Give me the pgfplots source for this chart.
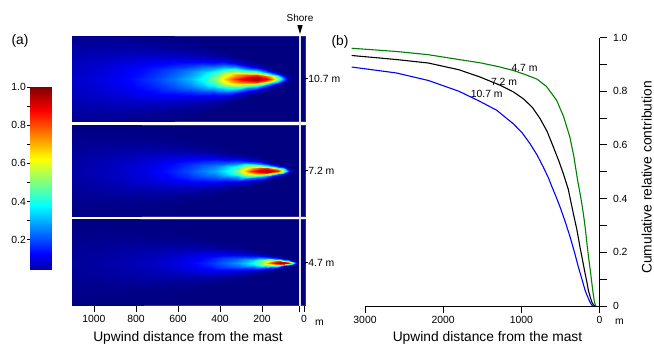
\documentclass[border=0pt]{standalone}
\usepackage{pgfplots}
\pgfplotsset{compat=1.18}
\usepackage{fontspec}
\setmainfont{Liberation Sans}
\definecolor{hmblue}{RGB}{0,0,128}
\definecolor{hmborder}{RGB}{40,40,165}
\definecolor{shore}{RGB}{228,228,238}
\definecolor{cgreen}{RGB}{0,128,0}
\definecolor{cblue}{RGB}{0,0,255}
\newcommand{\fsz}[1]{\fontsize{#1bp}{#1bp}\selectfont}
\pgfplotsset{
  every axis/.append style={scale only axis,
    /pgf/number format/assume math mode=true,
    /pgf/number format/1000 sep={},
    tick label style={font=\fsz{10.4}}},
  hm/.style={anchor=north west, width=232.5bp,
    xmin=-5, xmax=1102, x dir=reverse,
    axis background/.style={fill=hmblue},
    axis line style={draw=hmborder, line width=0.7bp},
    colormap/jet, point meta min=0, point meta max=1,
    xtick=\empty, ytick=\empty},
  hmplot/.style={surf, shader=interp, point meta=explicit, mesh/rows=11, mesh/ordering=y varies},
}
\begin{document}
\begin{tikzpicture}[x=1bp,y=1bp]
\useasboundingbox (0,0) rectangle (654,-345);

% ---------- colorbar ----------
\begin{axis}[at={(29.5bp,-87.3bp)}, anchor=north west, width=21.5bp, height=181.7bp,
  xmin=0, xmax=1, ymin=0.045, ymax=1, xtick=\empty,
  ytick={0.2,0.4,0.6,0.8,1}, yticklabels={0.2,0.4,0.6,0.8,1.0},
  minor y tick num=1, ytick pos=left, tick align=outside,
  major tick length=2.5bp, minor tick length=2.5bp,
  axis line style={draw=none}, tick style={black, line width=0.8bp},
  colormap/jet, point meta min=0, point meta max=1,
  yticklabel style={inner sep=1bp}]
\addplot[surf, shader=interp, point meta=explicit, mesh/cols=2] coordinates {
(0,0.045)[0.045] (1,0.045)[0.045]
(0,0.125)[0.125] (1,0.125)[0.125]
(0,0.375)[0.375] (1,0.375)[0.375]
(0,0.625)[0.625] (1,0.625)[0.625]
(0,0.875)[0.875] (1,0.875)[0.875]
(0,1)[1] (1,1)[1]
};
\end{axis}

% ---------- panel 10.7 m ----------
\begin{axis}[hm, at={(72.5bp,-36bp)}, height=85bp, ymin=-42.5, ymax=42.5]
\addplot[hmplot] coordinates {
(-5,-0.9)[0] (-5,-0.66)[0] (-5,-0.48)[0] (-5,-0.33)[0] (-5,-0.18)[0] (-5,0)[0] (-5,0.18)[0] (-5,0.33)[0] (-5,0.48)[0] (-5,0.66)[0] (-5,0.9)[0]
(40,-2.76)[0] (40,-2.02)[0] (40,-1.47)[0] (40,-1.01)[0] (40,-0.55)[0] (40,0)[0] (40,0.55)[0] (40,1.01)[0] (40,1.47)[0] (40,2.02)[0] (40,2.76)[0]
(60,-4.17)[0] (60,-3.06)[0.001] (60,-2.22)[0.003] (60,-1.53)[0.005] (60,-0.83)[0.008] (60,0)[0.01] (60,0.83)[0.008] (60,1.53)[0.005] (60,2.22)[0.003] (60,3.06)[0.001] (60,4.17)[0]
(80,-5.55)[0.001] (80,-4.07)[0.008] (80,-2.96)[0.025] (80,-2.04)[0.049] (80,-1.11)[0.075] (80,0)[0.09] (80,1.11)[0.075] (80,2.04)[0.049] (80,2.96)[0.025] (80,4.07)[0.008] (80,5.55)[0.001]
(100,-6.93)[0.003] (100,-5.08)[0.024] (100,-3.70)[0.075] (100,-2.54)[0.147] (100,-1.39)[0.225] (100,0)[0.27] (100,1.39)[0.225] (100,2.54)[0.147] (100,3.70)[0.075] (100,5.08)[0.024] (100,6.93)[0.003]
(125,-8.67)[0.006] (125,-6.36)[0.047] (125,-4.62)[0.147] (125,-3.18)[0.289] (125,-1.73)[0.443] (125,0)[0.53] (125,1.73)[0.443] (125,3.18)[0.289] (125,4.62)[0.147] (125,6.36)[0.047] (125,8.67)[0.006]
(150,-10.41)[0.008] (150,-7.63)[0.068] (150,-5.55)[0.211] (150,-3.82)[0.415] (150,-2.08)[0.635] (150,0)[0.76] (150,2.08)[0.635] (150,3.82)[0.415] (150,5.55)[0.211] (150,7.63)[0.068] (150,10.41)[0.008]
(180,-12.48)[0.010] (180,-9.15)[0.082] (180,-6.66)[0.256] (180,-4.58)[0.502] (180,-2.50)[0.768] (180,0)[0.92] (180,2.50)[0.768] (180,4.58)[0.502] (180,6.66)[0.256] (180,9.15)[0.082] (180,12.48)[0.010]
(225,-15.6)[0.011] (225,-11.44)[0.089] (225,-8.32)[0.278] (225,-5.72)[0.546] (225,-3.12)[0.835] (225,0)[1] (225,3.12)[0.835] (225,5.72)[0.546] (225,8.32)[0.278] (225,11.44)[0.089] (225,15.6)[0.011]
(270,-18.72)[0.010] (270,-13.73)[0.085] (270,-9.98)[0.264] (270,-6.86)[0.519] (270,-3.74)[0.793] (270,0)[0.95] (270,3.74)[0.793] (270,6.86)[0.519] (270,9.98)[0.264] (270,13.73)[0.085] (270,18.72)[0.010]
(330,-22.86)[0.009] (330,-16.76)[0.073] (330,-12.19)[0.228] (330,-8.38)[0.448] (330,-4.57)[0.685] (330,0)[0.82] (330,4.57)[0.685] (330,8.38)[0.448] (330,12.19)[0.228] (330,16.76)[0.073] (330,22.86)[0.009]
(380,-26.34)[0.007] (380,-19.32)[0.059] (380,-14.05)[0.183] (380,-9.66)[0.360] (380,-5.27)[0.551] (380,0)[0.66] (380,5.27)[0.551] (380,9.66)[0.360] (380,14.05)[0.183] (380,19.32)[0.059] (380,26.34)[0.007]
(430,-29.79)[0.006] (430,-21.85)[0.045] (430,-15.89)[0.139] (430,-10.92)[0.273] (430,-5.96)[0.418] (430,0)[0.50] (430,5.96)[0.418] (430,10.92)[0.273] (430,15.89)[0.139] (430,21.85)[0.045] (430,29.79)[0.006]
(480,-33.27)[0.004] (480,-24.40)[0.035] (480,-17.74)[0.108] (480,-12.20)[0.213] (480,-6.65)[0.326] (480,0)[0.39] (480,6.65)[0.326] (480,12.20)[0.213] (480,17.74)[0.108] (480,24.40)[0.035] (480,33.27)[0.004]
(540,-37.41)[0.003] (540,-27.43)[0.028] (540,-19.95)[0.086] (540,-13.72)[0.169] (540,-7.48)[0.259] (540,0)[0.31] (540,7.48)[0.259] (540,13.72)[0.169] (540,19.95)[0.086] (540,27.43)[0.028] (540,37.41)[0.003]
(620,-42.96)[0.003] (620,-31.50)[0.021] (620,-22.91)[0.067] (620,-15.75)[0.131] (620,-8.59)[0.200] (620,0)[0.24] (620,8.59)[0.200] (620,15.75)[0.131] (620,22.91)[0.067] (620,31.50)[0.021] (620,42.96)[0.003]
(720,-49.89)[0.002] (720,-36.59)[0.016] (720,-26.61)[0.050] (720,-18.29)[0.098] (720,-9.98)[0.150] (720,0)[0.18] (720,9.98)[0.150] (720,18.29)[0.098] (720,26.61)[0.050] (720,36.59)[0.016] (720,49.89)[0.002]
(840,-58.2)[0.001] (840,-42.68)[0.012] (840,-31.04)[0.036] (840,-21.34)[0.071] (840,-11.64)[0.109] (840,0)[0.13] (840,11.64)[0.109] (840,21.34)[0.071] (840,31.04)[0.036] (840,42.68)[0.012] (840,58.2)[0.001]
(970,-67.23)[0.001] (970,-49.30)[0.008] (970,-35.86)[0.026] (970,-24.65)[0.052] (970,-13.45)[0.079] (970,0)[0.095] (970,13.45)[0.079] (970,24.65)[0.052] (970,35.86)[0.026] (970,49.30)[0.008] (970,67.23)[0.001]
(1102,-76.38)[0.001] (1102,-56.01)[0.006] (1102,-40.74)[0.019] (1102,-28.01)[0.038] (1102,-15.28)[0.058] (1102,0)[0.07] (1102,15.28)[0.058] (1102,28.01)[0.038] (1102,40.74)[0.019] (1102,56.01)[0.006] (1102,76.38)[0.001]
};
\end{axis}

% ---------- panel 7.2 m ----------
\begin{axis}[hm, at={(72.5bp,-125bp)}, height=91bp, ymin=-45.5, ymax=45.5]
\addplot[hmplot] coordinates {
(-5,-0.9)[0] (-5,-0.66)[0] (-5,-0.48)[0] (-5,-0.33)[0] (-5,-0.18)[0] (-5,0)[0] (-5,0.18)[0] (-5,0.33)[0] (-5,0.48)[0] (-5,0.66)[0] (-5,0.9)[0]
(30,-1.77)[0] (30,-1.30)[0] (30,-0.94)[0] (30,-0.65)[0] (30,-0.35)[0] (30,0)[0] (30,0.35)[0] (30,0.65)[0] (30,0.94)[0] (30,1.30)[0] (30,1.77)[0]
(50,-2.97)[0] (50,-2.18)[0.001] (50,-1.58)[0.003] (50,-1.09)[0.005] (50,-0.59)[0.008] (50,0)[0.01] (50,0.59)[0.008] (50,1.09)[0.005] (50,1.58)[0.003] (50,2.18)[0.001] (50,2.97)[0]
(67,-3.96)[0.001] (67,-2.90)[0.007] (67,-2.11)[0.022] (67,-1.45)[0.044] (67,-0.79)[0.067] (67,0)[0.08] (67,0.79)[0.067] (67,1.45)[0.044] (67,2.11)[0.022] (67,2.90)[0.007] (67,3.96)[0.001]
(83,-4.92)[0.003] (83,-3.61)[0.027] (83,-2.62)[0.083] (83,-1.80)[0.164] (83,-0.98)[0.251] (83,0)[0.30] (83,0.98)[0.251] (83,1.80)[0.164] (83,2.62)[0.083] (83,3.61)[0.027] (83,4.92)[0.003]
(98,-5.79)[0.006] (98,-4.25)[0.052] (98,-3.09)[0.161] (98,-2.12)[0.317] (98,-1.16)[0.484] (98,0)[0.58] (98,1.16)[0.484] (98,2.12)[0.317] (98,3.09)[0.161] (98,4.25)[0.052] (98,5.79)[0.006]
(122,-7.20)[0.009] (122,-5.28)[0.076] (122,-3.84)[0.236] (122,-2.64)[0.464] (122,-1.44)[0.710] (122,0)[0.85] (122,1.44)[0.710] (122,2.64)[0.464] (122,3.84)[0.236] (122,5.28)[0.076] (122,7.20)[0.009]
(150,-8.88)[0.011] (150,-6.51)[0.086] (150,-4.74)[0.270] (150,-3.26)[0.530] (150,-1.78)[0.810] (150,0)[0.97] (150,1.78)[0.810] (150,3.26)[0.530] (150,4.74)[0.270] (150,6.51)[0.086] (150,8.88)[0.011]
(178,-10.53)[0.011] (178,-7.72)[0.089] (178,-5.62)[0.278] (178,-3.86)[0.546] (178,-2.11)[0.835] (178,0)[1] (178,2.11)[0.835] (178,3.86)[0.546] (178,5.62)[0.278] (178,7.72)[0.089] (178,10.53)[0.011]
(210,-12.42)[0.011] (210,-9.11)[0.085] (210,-6.62)[0.267] (210,-4.55)[0.524] (210,-2.48)[0.802] (210,0)[0.96] (210,2.48)[0.802] (210,4.55)[0.524] (210,6.62)[0.267] (210,9.11)[0.085] (210,12.42)[0.011]
(249,-14.73)[0.009] (249,-10.80)[0.075] (249,-7.86)[0.234] (249,-5.40)[0.459] (249,-2.95)[0.701] (249,0)[0.84] (249,2.95)[0.701] (249,5.40)[0.459] (249,7.86)[0.234] (249,10.80)[0.075] (249,14.73)[0.009]
(281,-16.62)[0.007] (281,-12.19)[0.061] (281,-8.86)[0.189] (281,-6.09)[0.371] (281,-3.32)[0.568] (281,0)[0.68] (281,3.32)[0.568] (281,6.09)[0.371] (281,8.86)[0.189] (281,12.19)[0.061] (281,16.62)[0.007]
(321,-18.96)[0.006] (321,-13.90)[0.045] (321,-10.11)[0.139] (321,-6.95)[0.273] (321,-3.79)[0.418] (321,0)[0.50] (321,3.79)[0.418] (321,6.95)[0.273] (321,10.11)[0.139] (321,13.90)[0.045] (321,18.96)[0.006]
(368,-21.75)[0.004] (368,-15.95)[0.034] (368,-11.60)[0.106] (368,-7.98)[0.207] (368,-4.35)[0.317] (368,0)[0.38] (368,4.35)[0.317] (368,7.98)[0.207] (368,11.60)[0.106] (368,15.95)[0.034] (368,21.75)[0.004]
(420,-24.81)[0.003] (420,-18.19)[0.027] (420,-13.23)[0.083] (420,-9.10)[0.164] (420,-4.96)[0.251] (420,0)[0.30] (420,4.96)[0.251] (420,9.10)[0.164] (420,13.23)[0.083] (420,18.19)[0.027] (420,24.81)[0.003]
(480,-28.38)[0.003] (480,-20.81)[0.022] (480,-15.14)[0.070] (480,-10.41)[0.137] (480,-5.68)[0.209] (480,0)[0.25] (480,5.68)[0.209] (480,10.41)[0.137] (480,15.14)[0.070] (480,20.81)[0.022] (480,28.38)[0.003]
(560,-33.09)[0.002] (560,-24.27)[0.017] (560,-17.65)[0.053] (560,-12.13)[0.104] (560,-6.62)[0.159] (560,0)[0.19] (560,6.62)[0.159] (560,12.13)[0.104] (560,17.65)[0.053] (560,24.27)[0.017] (560,33.09)[0.002]
(650,-38.43)[0.002] (650,-28.18)[0.012] (650,-20.50)[0.039] (650,-14.09)[0.076] (650,-7.69)[0.117] (650,0)[0.14] (650,7.69)[0.117] (650,14.09)[0.076] (650,20.50)[0.039] (650,28.18)[0.012] (650,38.43)[0.002]
(760,-44.91)[0.001] (760,-32.93)[0.009] (760,-23.95)[0.028] (760,-16.47)[0.055] (760,-8.98)[0.084] (760,0)[0.10] (760,8.98)[0.084] (760,16.47)[0.055] (760,23.95)[0.028] (760,32.93)[0.009] (760,44.91)[0.001]
(880,-52.02)[0.001] (880,-38.15)[0.006] (880,-27.74)[0.019] (880,-19.07)[0.038] (880,-10.40)[0.058] (880,0)[0.07] (880,10.40)[0.058] (880,19.07)[0.038] (880,27.74)[0.019] (880,38.15)[0.006] (880,52.02)[0.001]
(1000,-59.1)[0.001] (1000,-43.34)[0.004] (1000,-31.52)[0.014] (1000,-21.67)[0.027] (1000,-11.82)[0.042] (1000,0)[0.05] (1000,11.82)[0.042] (1000,21.67)[0.027] (1000,31.52)[0.014] (1000,43.34)[0.004] (1000,59.1)[0.001]
(1102,-65.13)[0] (1102,-47.76)[0.003] (1102,-34.74)[0.010] (1102,-23.88)[0.019] (1102,-13.03)[0.029] (1102,0)[0.035] (1102,13.03)[0.029] (1102,23.88)[0.019] (1102,34.74)[0.010] (1102,47.76)[0.003] (1102,65.13)[0]
};
\end{axis}

% ---------- panel 4.7 m ----------
\begin{axis}[hm, at={(72.5bp,-219.5bp)}, height=86bp, ymin=-43, ymax=43,
  xtick={0,200,400,600,800,1000}, extra x ticks={20}, extra x tick labels={},
  xtick pos=bottom, tick align=outside, major tick length=6.5bp,
  tick style={black, line width=0.8bp}]
\addplot[hmplot] coordinates {
(-5,-0.9)[0] (-5,-0.66)[0] (-5,-0.48)[0] (-5,-0.33)[0] (-5,-0.18)[0] (-5,0)[0] (-5,0.18)[0] (-5,0.33)[0] (-5,0.48)[0] (-5,0.66)[0] (-5,0.9)[0]
(20,-1.11)[0] (20,-0.81)[0] (20,-0.59)[0] (20,-0.41)[0] (20,-0.22)[0] (20,0)[0] (20,0.22)[0] (20,0.41)[0] (20,0.59)[0] (20,0.81)[0] (20,1.11)[0]
(30,-1.68)[0] (30,-1.23)[0.002] (30,-0.90)[0.006] (30,-0.62)[0.011] (30,-0.34)[0.017] (30,0)[0.02] (30,0.34)[0.017] (30,0.62)[0.011] (30,0.90)[0.006] (30,1.23)[0.002] (30,1.68)[0]
(40,-2.22)[0.002] (40,-1.63)[0.013] (40,-1.18)[0.042] (40,-0.81)[0.082] (40,-0.44)[0.125] (40,0)[0.15] (40,0.44)[0.125] (40,0.81)[0.082] (40,1.18)[0.042] (40,1.63)[0.013] (40,2.22)[0.002]
(51,-2.82)[0.004] (51,-2.07)[0.036] (51,-1.50)[0.111] (51,-1.03)[0.218] (51,-0.56)[0.334] (51,0)[0.40] (51,0.56)[0.334] (51,1.03)[0.218] (51,1.50)[0.111] (51,2.07)[0.036] (51,2.82)[0.004]
(62,-3.45)[0.008] (62,-2.53)[0.062] (62,-1.84)[0.195] (62,-1.27)[0.382] (62,-0.69)[0.585] (62,0)[0.70] (62,0.69)[0.585] (62,1.27)[0.382] (62,1.84)[0.195] (62,2.53)[0.062] (62,3.45)[0.008]
(75,-4.17)[0.010] (75,-3.06)[0.080] (75,-2.22)[0.250] (75,-1.53)[0.491] (75,-0.83)[0.752] (75,0)[0.90] (75,0.83)[0.752] (75,1.53)[0.491] (75,2.22)[0.250] (75,3.06)[0.080] (75,4.17)[0.010]
(95,-5.28)[0.011] (95,-3.87)[0.088] (95,-2.82)[0.275] (95,-1.94)[0.541] (95,-1.06)[0.827] (95,0)[0.99] (95,1.06)[0.827] (95,1.94)[0.541] (95,2.82)[0.275] (95,3.87)[0.088] (95,5.28)[0.011]
(112,-6.21)[0.011] (112,-4.55)[0.089] (112,-3.31)[0.278] (112,-2.28)[0.546] (112,-1.24)[0.835] (112,0)[1] (112,1.24)[0.835] (112,2.28)[0.546] (112,3.31)[0.278] (112,4.55)[0.089] (112,6.21)[0.011]
(135,-7.50)[0.010] (135,-5.50)[0.083] (135,-4.00)[0.259] (135,-2.75)[0.508] (135,-1.50)[0.777] (135,0)[0.93] (135,1.50)[0.777] (135,2.75)[0.508] (135,4.00)[0.259] (135,5.50)[0.083] (135,7.50)[0.010]
(160,-8.88)[0.009] (160,-6.51)[0.069] (160,-4.74)[0.217] (160,-3.26)[0.426] (160,-1.78)[0.651] (160,0)[0.78] (160,1.78)[0.651] (160,3.26)[0.426] (160,4.74)[0.217] (160,6.51)[0.069] (160,8.88)[0.009]
(186,-10.32)[0.007] (186,-7.57)[0.055] (186,-5.50)[0.172] (186,-3.78)[0.339] (186,-2.06)[0.518] (186,0)[0.62] (186,2.06)[0.518] (186,3.78)[0.339] (186,5.50)[0.172] (186,7.57)[0.055] (186,10.32)[0.007]
(212,-11.76)[0.005] (212,-8.62)[0.044] (212,-6.27)[0.136] (212,-4.31)[0.268] (212,-2.35)[0.409] (212,0)[0.49] (212,2.35)[0.409] (212,4.31)[0.268] (212,6.27)[0.136] (212,8.62)[0.044] (212,11.76)[0.005]
(241,-13.38)[0.004] (241,-9.81)[0.035] (241,-7.14)[0.108] (241,-4.91)[0.213] (241,-2.68)[0.326] (241,0)[0.39] (241,2.68)[0.326] (241,4.91)[0.213] (241,7.14)[0.108] (241,9.81)[0.035] (241,13.38)[0.004]
(280,-15.54)[0.004] (280,-11.40)[0.028] (280,-8.29)[0.089] (280,-5.70)[0.175] (280,-3.11)[0.267] (280,0)[0.32] (280,3.11)[0.267] (280,5.70)[0.175] (280,8.29)[0.089] (280,11.40)[0.028] (280,15.54)[0.004]
(321,-17.82)[0.003] (321,-13.07)[0.024] (321,-9.50)[0.075] (321,-6.53)[0.147] (321,-3.56)[0.225] (321,0)[0.27] (321,3.56)[0.225] (321,6.53)[0.147] (321,9.50)[0.075] (321,13.07)[0.024] (321,17.82)[0.003]
(380,-21.09)[0.002] (380,-15.47)[0.020] (380,-11.25)[0.061] (380,-7.73)[0.120] (380,-4.22)[0.184] (380,0)[0.22] (380,4.22)[0.184] (380,7.73)[0.120] (380,11.25)[0.061] (380,15.47)[0.020] (380,21.09)[0.002]
(448,-24.87)[0.002] (448,-18.24)[0.015] (448,-13.26)[0.047] (448,-9.12)[0.093] (448,-4.97)[0.142] (448,0)[0.17] (448,4.97)[0.142] (448,9.12)[0.093] (448,13.26)[0.047] (448,18.24)[0.015] (448,24.87)[0.002]
(520,-28.86)[0.001] (520,-21.16)[0.012] (520,-15.39)[0.036] (520,-10.58)[0.071] (520,-5.77)[0.109] (520,0)[0.13] (520,5.77)[0.109] (520,10.58)[0.071] (520,15.39)[0.036] (520,21.16)[0.012] (520,28.86)[0.001]
(600,-33.3)[0.001] (600,-24.42)[0.008] (600,-17.76)[0.026] (600,-12.21)[0.052] (600,-6.66)[0.079] (600,0)[0.095] (600,6.66)[0.079] (600,12.21)[0.052] (600,17.76)[0.026] (600,24.42)[0.008] (600,33.3)[0.001]
(700,-38.85)[0.001] (700,-28.49)[0.006] (700,-20.72)[0.019] (700,-14.25)[0.038] (700,-7.77)[0.058] (700,0)[0.07] (700,7.77)[0.058] (700,14.25)[0.038] (700,20.72)[0.019] (700,28.49)[0.006] (700,38.85)[0.001]
(820,-45.51)[0.001] (820,-33.37)[0.004] (820,-24.27)[0.014] (820,-16.69)[0.027] (820,-9.10)[0.042] (820,0)[0.05] (820,9.10)[0.042] (820,16.69)[0.027] (820,24.27)[0.014] (820,33.37)[0.004] (820,45.51)[0.001]
(960,-53.28)[0] (960,-39.07)[0.003] (960,-28.42)[0.010] (960,-19.54)[0.019] (960,-10.66)[0.029] (960,0)[0.035] (960,10.66)[0.029] (960,19.54)[0.019] (960,28.42)[0.010] (960,39.07)[0.003] (960,53.28)[0]
(1102,-61.17)[0] (1102,-44.86)[0.002] (1102,-32.62)[0.007] (1102,-22.43)[0.014] (1102,-12.23)[0.021] (1102,0)[0.025] (1102,12.23)[0.021] (1102,22.43)[0.014] (1102,32.62)[0.007] (1102,44.86)[0.002] (1102,61.17)[0]
};
\end{axis}

% ---------- right panel ----------
\begin{axis}[at={(365bp,-37.5bp)}, anchor=north west, width=234.5bp, height=268.5bp,
  xmin=0, xmax=3000, x dir=reverse, ymin=0, ymax=1,
  axis x line*=bottom, axis y line*=right, clip=false,
  xtick={0,1000,2000,3000},
  ytick={0,0.2,0.4,0.6,0.8,1}, yticklabels={0,0.2,0.4,0.6,0.8,1.0},
  minor y tick num=1, tick align=outside,
  major tick length=7bp, minor tick length=7bp,
  yticklabel style={xshift=3bp},
  axis line style={line width=1bp, black}, tick style={line width=1bp, black}]
\addplot[cgreen, line width=1.1bp] coordinates {
(3170,0.960) (2600,0.948) (2190,0.936) (1800,0.918) (1530,0.906) (1300,0.892)
(1100,0.877) (950,0.862) (800,0.845) (680,0.818) (550,0.767) (460,0.706)
(380,0.630) (330,0.560) (280,0.468) (240,0.405) (207,0.345) (180,0.285)
(156,0.220) (135,0.170) (113,0.122) (100,0.090) (87,0.059) (75,0.035)
(66,0.016) (55,0.005) (45,0)
};
\addplot[black, line width=1.1bp] coordinates {
(3170,0.933) (2600,0.918) (2190,0.905) (1800,0.880) (1530,0.853) (1270,0.822)
(1100,0.797) (975,0.772) (860,0.740) (760,0.698) (670,0.650) (590,0.592)
(520,0.540) (463,0.493) (400,0.435) (335,0.345) (290,0.285) (250,0.220)
(215,0.168) (185,0.122) (160,0.087) (143,0.059) (120,0.035) (100,0.016)
(80,0.005) (60,0)
};
\addplot[cblue, line width=1.1bp] coordinates {
(3170,0.890) (2600,0.868) (2190,0.840) (1800,0.800) (1530,0.762) (1315,0.729)
(1100,0.678) (990,0.645) (890,0.605) (800,0.563) (720,0.518) (650,0.475)
(610,0.445) (560,0.410) (505,0.369) (440,0.315) (377,0.258) (320,0.200)
(271,0.146) (225,0.100) (185,0.059) (160,0.040) (143,0.029) (120,0.013)
(100,0.004) (85,0)
};
\end{axis}

% ---------- annotations ----------
\draw[shore, line width=1.4bp] (300,-36) -- (300,-305.5);
\node[font=\fsz{10}] at (300,-17.7) {Shore};
\fill (297.3,-25) -- (302.7,-25) -- (300,-34) -- cycle;
\foreach \yy/\lab in {78.5/10.7 m,170.5/7.2 m,262.75/4.7 m}{
  \draw[line width=0.9bp] (305.3,-\yy) -- (307.6,-\yy);
  \node[anchor=west, font=\fsz{10.4}, inner sep=0.6bp] at (307.6,-\yy) {\lab};
}
\node[font=\fsz{13.8}] at (20,-41) {(a)};
\node[font=\fsz{13.8}] at (340,-42) {(b)};
\node[font=\fsz{10.4}] at (524.5,-68.3) {4.7 m};
\node[font=\fsz{10.4}] at (504,-81.7) {7.2 m};
\node[font=\fsz{10.4}] at (486.7,-94.3) {10.7 m};
\node[anchor=base west, font=\fsz{10.4}, inner sep=0pt] at (315,-325.5) {m};
\node[anchor=base west, font=\fsz{10.4}, inner sep=0pt] at (615,-324) {m};
\node[anchor=base, font=\fsz{13.8}, inner sep=0pt] at (188,-341.5) {Upwind distance from the mast};
\node[anchor=base, font=\fsz{13.8}, inner sep=0pt] at (487.5,-341) {Upwind distance from the mast};
\node[rotate=90, font=\fsz{13.8}, inner sep=0pt] at (646.7,-177.5) {Cumulative relative contribution};
\end{tikzpicture}
\end{document}
